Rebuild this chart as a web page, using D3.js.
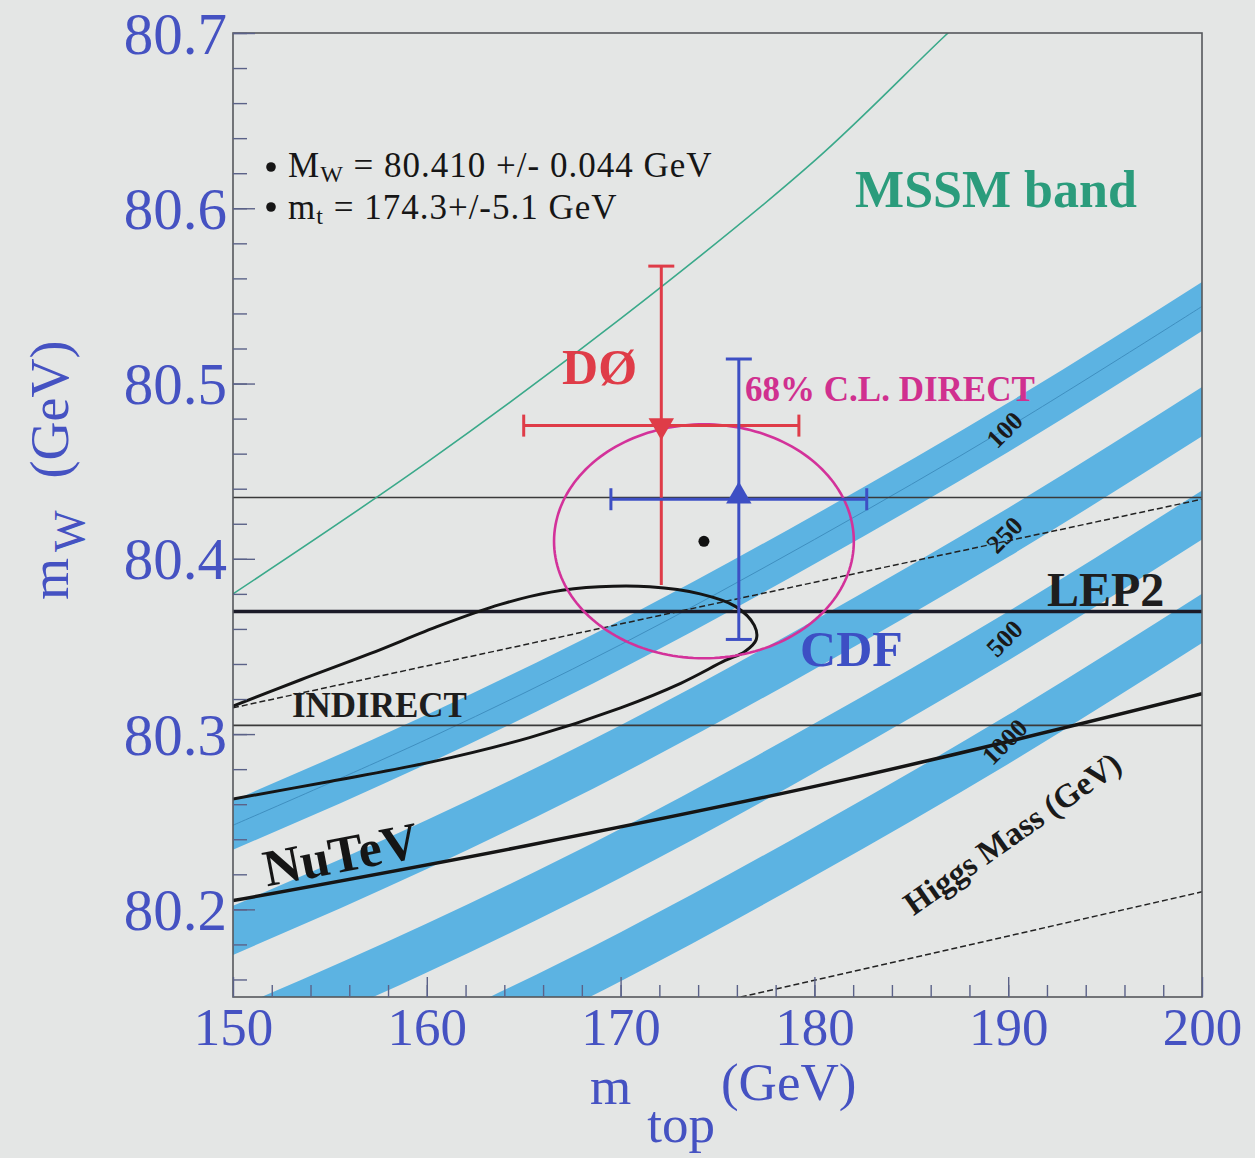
<!DOCTYPE html>
<html>
<head>
<meta charset="utf-8">
<script src="https://cdn.jsdelivr.net/npm/d3@7"></script>
<style>
  html, body { margin: 0; padding: 0; background: #e4e6e5; }
  svg { display: block; }
</style>
</head>
<body>
<svg id="chart" width="1255" height="1158"></svg>
<script>
// ---- axes ----
const xDomain = [150, 200];
const yDomain = [80.15, 80.7];
const xTicks = [150, 160, 170, 180, 190, 200];
const xTickLabels = ["150", "160", "170", "180", "190", "200"];
const yTicks = [80.2, 80.3, 80.4, 80.5, 80.6, 80.7];
const yTickLabels = ["80.2", "80.3", "80.4", "80.5", "80.6", "80.7"];

// ---- SM prediction bands, one per Higgs mass: [m_top, m_W centre] ----
const higgsMasses = ["100", "250", "500", "1000"];
const higgsBand100  = [[150, 80.248], [160, 80.297], [170, 80.351], [180, 80.411], [190, 80.475], [200, 80.544]];
const higgsBand250  = [[150, 80.188], [160, 80.237], [170, 80.291], [180, 80.351], [190, 80.415], [200, 80.484]];
const higgsBand500  = [[150, 80.129], [160, 80.178], [170, 80.232], [180, 80.292], [190, 80.356], [200, 80.425]];
const higgsBand1000 = [[150, 80.070], [160, 80.119], [170, 80.173], [180, 80.233], [190, 80.297], [200, 80.366]];
const higgsBandHalfWidth = 0.014;   // GeV in m_W

// ---- MSSM band upper edge ----
const mssmEdge = [[150, 80.380], [160, 80.455], [170, 80.537], [180, 80.627], [186.7, 80.698], [190, 80.732]];

// ---- LEP2 m_W: lower edge, central, upper edge ----
const lep2Mw = [80.305, 80.370, 80.435];

// ---- indirect fit: central line and 68% contour ----
const indirectCentral = [[150, 80.315], [173, 80.370], [200, 80.434]];
const indirectContour = [
  [150.0, 80.316], [153.5, 80.331], [157.1, 80.346], [160.7, 80.362], [163.8, 80.374],
  [166.4, 80.381], [168.9, 80.384], [171.5, 80.384], [174.1, 80.380], [175.9, 80.373],
  [176.9, 80.362], [177.0, 80.354], [176.4, 80.347], [175.4, 80.342], [173.1, 80.329],
  [170.0, 80.315], [165.3, 80.298], [160.2, 80.284], [155.0, 80.273], [150.0, 80.263],
  [149.5, 80.262]
];
const lowerDashed = [[176.2, 80.150], [200, 80.210]];

// ---- NuTeV ----
const nutevLine = [[150, 80.205], [165, 80.236], [182, 80.275], [200, 80.323]];

// ---- direct measurements ----
const expNames = ["DØ", "CDF"];
const expMt    = [172.1, 176.1];
const expMtErr = [7.1, 6.6];
const expMw    = [80.476, 80.434];
const expMwErr = [0.091, 0.080];

// ---- direct average ----
const avgMw = 80.410, avgMwErr = 0.044;
const avgMt = 174.3,  avgMtErr = 5.1;

// ------------------------------------------------------------------
const svg = d3.select("#chart");
const W = 1255, H = 1158;
const frameL = 233, frameR = 1202, frameT = 33, frameB = 997;
const serif = "'Liberation Serif', 'DejaVu Serif', serif";

const x = d3.scaleLinear().domain(xDomain).range([frameL, frameR]);
const y = d3.scaleLinear().domain(yDomain).range([frameB, frameT]);

svg.append("rect").attr("width", W).attr("height", H).attr("fill", "#e4e6e5");

svg.append("defs").append("clipPath").attr("id", "plot-clip")
  .append("rect").attr("x", frameL).attr("y", frameT)
  .attr("width", frameR - frameL).attr("height", frameB - frameT);

const plot = svg.append("g").attr("clip-path", "url(#plot-clip)");

// Higgs bands
const bands = [higgsBand100, higgsBand250, higgsBand500, higgsBand1000];
const bandArea = d3.area()
  .x(d => x(d[0]))
  .y0(d => y(d[1] - higgsBandHalfWidth))
  .y1(d => y(d[1] + higgsBandHalfWidth))
  .curve(d3.curveMonotoneX);
plot.selectAll("path.band").data(bands).join("path")
  .attr("class", "band")
  .attr("d", bandArea)
  .attr("fill", "#5cb3e2");

const line = d3.line().x(d => x(d[0])).y(d => y(d[1]));
const smooth = d3.line().x(d => x(d[0])).y(d => y(d[1])).curve(d3.curveCatmullRom);

// thin centre line in the lightest-Higgs band
plot.append("path").attr("d", smooth(higgsBand100))
  .attr("fill", "none").attr("stroke", "#3f8fc0").attr("stroke-width", 1);

// LEP2 horizontal lines
plot.selectAll("line.lep2").data(lep2Mw).join("line")
  .attr("class", "lep2")
  .attr("x1", frameL).attr("x2", frameR)
  .attr("y1", d => y(d)).attr("y2", d => y(d))
  .attr("stroke", (d, i) => i === 1 ? "#1b1b28" : "#3a3a3a")
  .attr("stroke-width", (d, i) => i === 1 ? 3.5 : 1.6);

// dashed lines
plot.append("path").attr("d", line(indirectCentral))
  .attr("fill", "none").attr("stroke", "#222").attr("stroke-width", 1.5)
  .attr("stroke-dasharray", "6,3");
plot.append("path").attr("d", line(lowerDashed))
  .attr("fill", "none").attr("stroke", "#222").attr("stroke-width", 1.5)
  .attr("stroke-dasharray", "6,3");

// indirect contour
plot.append("path").attr("d", smooth(indirectContour))
  .attr("fill", "none").attr("stroke", "#151515").attr("stroke-width", 3);

// NuTeV line
plot.append("path").attr("d", smooth(nutevLine))
  .attr("fill", "none").attr("stroke", "#151515").attr("stroke-width", 3.5);

// MSSM band edge
plot.append("path").attr("d", smooth(mssmEdge))
  .attr("fill", "none").attr("stroke", "#3aa98a").attr("stroke-width", 1.6);

// 68% C.L. ellipse of the direct average (delta chi2 = 2.3)
const k68 = Math.sqrt(2.3);
const ellipsePts = d3.range(0, 360, 2).map(a => {
  const t = a * Math.PI / 180;
  return [avgMt + k68 * avgMtErr * Math.cos(t), avgMw + k68 * avgMwErr * Math.sin(t)];
});
plot.append("path").attr("d", d3.line().x(d => x(d[0])).y(d => y(d[1])).curve(d3.curveLinearClosed)(ellipsePts))
  .attr("fill", "none").attr("stroke", "#d3329a").attr("stroke-width", 2.6);

// error bars
const expColors = ["#df3c48", "#3d4fc4"];
expNames.forEach((name, i) => {
  const g = plot.append("g").attr("stroke", expColors[i]).attr("stroke-width", 3);
  const cx = x(expMt[i]), cy = y(expMw[i]);
  const x0 = x(expMt[i] - expMtErr[i]), x1 = x(expMt[i] + expMtErr[i]);
  const y0 = y(expMw[i] - expMwErr[i]), y1 = y(expMw[i] + expMwErr[i]);
  g.append("line").attr("x1", x0).attr("x2", x1).attr("y1", cy).attr("y2", cy);
  g.append("line").attr("x1", cx).attr("x2", cx).attr("y1", y0).attr("y2", y1);
  g.append("line").attr("x1", cx - 13).attr("x2", cx + 13).attr("y1", y1).attr("y2", y1);
  if (i === 1) g.append("line").attr("x1", cx - 13).attr("x2", cx + 13).attr("y1", y0).attr("y2", y0);
  g.append("line").attr("x1", x0).attr("x2", x0).attr("y1", cy - 11).attr("y2", cy + 11);
  g.append("line").attr("x1", x1).attr("x2", x1).attr("y1", cy - 11).attr("y2", cy + 11);
  const tri = d3.symbol().type(d3.symbolTriangle).size(280)();
  plot.append("path").attr("d", tri)
    .attr("transform", `translate(${cx},${cy + (i === 0 ? 0 : -3)}) rotate(${i === 0 ? 180 : 0})`)
    .attr("fill", expColors[i]);
});

// direct average point
plot.append("circle").attr("cx", x(avgMt)).attr("cy", y(avgMw)).attr("r", 5.5).attr("fill", "#111");

// ---- frame ----
svg.append("rect").attr("x", frameL).attr("y", frameT).attr("width", frameR - frameL).attr("height", frameB - frameT)
  .attr("fill", "none").attr("stroke", "#55585c").attr("stroke-width", 1.6);

// ---- axes ----
const tickColor = "#5b6288";
const labelColor = "#4552c2";

const yMinor = d3.range(80.16, 80.7, 0.02).map(v => +v.toFixed(2));
svg.append("g").attr("transform", `translate(${frameL},0)`)
  .call(d3.axisLeft(y).tickValues(yMinor).tickSize(-14).tickFormat(""))
  .call(g => g.select(".domain").remove())
  .call(g => g.selectAll("line").attr("stroke", tickColor).attr("stroke-width", 1.4));
svg.append("g").attr("transform", `translate(${frameL},0)`)
  .call(d3.axisLeft(y).tickValues(yTicks).tickSize(-22).tickPadding(6)
    .tickFormat((d, i) => yTickLabels[i]))
  .call(g => g.select(".domain").remove())
  .call(g => g.selectAll("line").attr("stroke", tickColor).attr("stroke-width", 1.4))
  .call(g => g.selectAll("text").attr("font-family", serif).attr("font-size", 59)
    .attr("fill", labelColor).attr("dy", "0.34em"));

const xMinor = d3.range(152, 200, 2);
svg.append("g").attr("transform", `translate(0,${frameB})`)
  .call(d3.axisBottom(x).tickValues(xMinor).tickSize(-12).tickFormat(""))
  .call(g => g.select(".domain").remove())
  .call(g => g.selectAll("line").attr("stroke", tickColor).attr("stroke-width", 1.4));
svg.append("g").attr("transform", `translate(0,${frameB})`)
  .call(d3.axisBottom(x).tickValues(xTicks).tickSize(-20).tickPadding(10)
    .tickFormat((d, i) => xTickLabels[i]))
  .call(g => g.select(".domain").remove())
  .call(g => g.selectAll("line").attr("stroke", tickColor).attr("stroke-width", 1.4))
  .call(g => g.selectAll("text").attr("font-family", serif).attr("font-size", 53)
    .attr("fill", labelColor).attr("dy", "0.71em"));

// axis titles
const yTitle = svg.append("text")
  .attr("transform", "translate(68,600) rotate(-90)")
  .attr("font-family", serif).attr("font-size", 54).attr("fill", labelColor);
yTitle.append("tspan").text("m");
yTitle.append("tspan").attr("dx", 6).attr("dy", 16).attr("font-size", 44).text("W");
yTitle.append("tspan").attr("dx", 32).attr("dy", -16).text("(GeV)");

const xTitle = svg.append("text")
  .attr("x", 590).attr("y", 1104)
  .attr("font-family", serif).attr("font-size", 53).attr("fill", labelColor);
xTitle.append("tspan").text("m");
xTitle.append("tspan").attr("dx", 16).attr("dy", 38).text("top");
xTitle.append("tspan").attr("dx", 6).attr("dy", -42).text("(GeV)");

// ---- annotations ----
const ann = svg.append("g").attr("font-family", serif).attr("font-weight", "bold");

ann.append("text").attr("x", x(182.1)).attr("y", y(80.601)).attr("font-size", 52)
  .attr("fill", "#2b9c7c").text("MSSM band");

ann.append("text").attr("x", x(166.98)).attr("y", y(80.500)).attr("font-size", 50)
  .attr("fill", expColors[0]).text(expNames[0]);
ann.append("text").attr("x", x(179.26)).attr("y", y(80.339)).attr("font-size", 50)
  .attr("fill", expColors[1]).text(expNames[1]);

ann.append("text").attr("x", x(176.42)).attr("y", y(80.490)).attr("font-size", 35)
  .attr("fill", "#d0308f").text("68% C.L. DIRECT");

ann.append("text").attr("x", x(192.0)).attr("y", y(80.373)).attr("font-size", 48)
  .attr("fill", "#1e1e1e").text("LEP2");

ann.append("text").attr("x", x(153.04)).attr("y", y(80.310)).attr("font-size", 35)
  .attr("fill", "#1e1e1e").text("INDIRECT");

ann.append("text").attr("transform", `translate(${x(151.75)},${y(80.213)}) rotate(-11)`)
  .attr("font-size", 52).attr("fill", "#151515").text("NuTeV");

// Higgs mass labels along the bands
const labelMt = 189.8;
bands.forEach((b, i) => {
  const j = d3.bisector(d => d[0]).left(b, labelMt);
  const a = b[j - 1], c = b[j];
  const mw = a[1] + (c[1] - a[1]) * (labelMt - a[0]) / (c[0] - a[0]);
  ann.append("text")
    .attr("transform", `translate(${x(labelMt)},${y(mw)}) rotate(-45)`)
    .attr("text-anchor", "middle").attr("dy", "0.35em")
    .attr("font-size", 26).attr("fill", "#1a1a1a").text(higgsMasses[i]);
});

ann.append("text")
  .attr("transform", `translate(${x(190.2)},${y(80.2435)}) rotate(-35)`)
  .attr("text-anchor", "middle").attr("dy", "0.35em")
  .attr("font-size", 33).attr("fill", "#1a1a1a").text("Higgs Mass (GeV)");

// legend of the direct average
const legend = svg.append("g").attr("font-family", serif).attr("font-size", 35)
  .attr("fill", "#161616").attr("letter-spacing", 1);
legend.append("circle").attr("cx", 271).attr("cy", 167).attr("r", 4.8);
legend.append("circle").attr("cx", 271).attr("cy", 207).attr("r", 4.8);
const l1 = legend.append("text").attr("x", 288).attr("y", 177);
l1.append("tspan").text("M");
l1.append("tspan").attr("dy", 5).attr("font-size", 24).text("W");
l1.append("tspan").attr("dy", -5).text(` = ${avgMw.toFixed(3)} +/- ${avgMwErr.toFixed(3)} GeV`);
const l2 = legend.append("text").attr("x", 288).attr("y", 219);
l2.append("tspan").text("m");
l2.append("tspan").attr("dy", 5).attr("font-size", 24).text("t");
l2.append("tspan").attr("dy", -5).text(` = ${avgMt.toFixed(1)}+/-${avgMtErr.toFixed(1)} GeV`);
</script>
</body>
</html>
